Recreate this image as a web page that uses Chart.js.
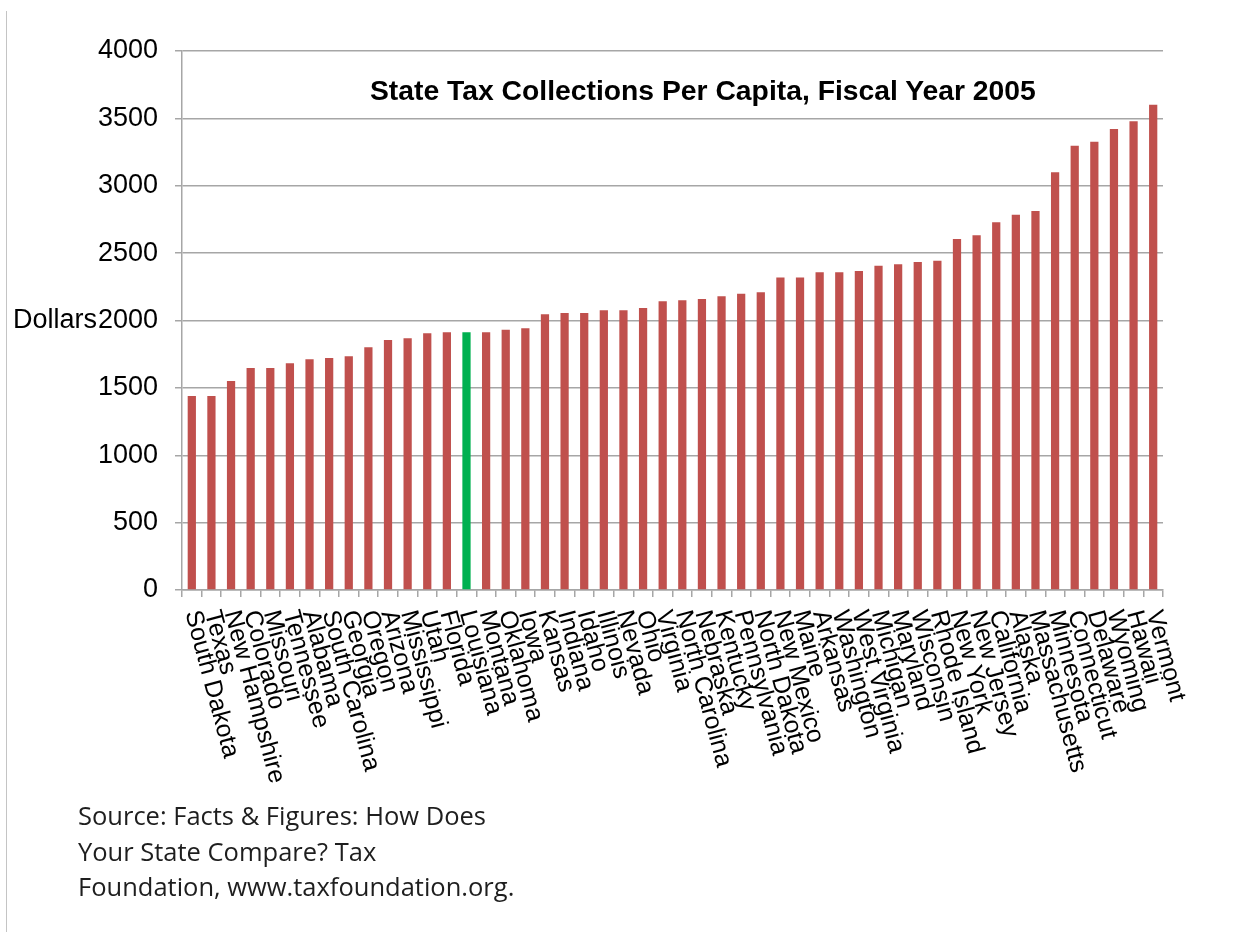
<!DOCTYPE html>
<html>
<head>
<meta charset="utf-8">
<title>State Tax Collections Per Capita, Fiscal Year 2005</title>
<script src="https://cdn.jsdelivr.net/npm/chart.js@4.4.1/dist/chart.umd.min.js"></script>
<style>
  html, body { margin: 0; padding: 0; background: #fff; }
  #wrap { position: relative; width: 1241px; height: 935px; overflow: hidden; }
  #frame { position: absolute; left: 6px; top: 11px; bottom: 3px; border-left: 1px solid #c4c4c4; }
  #chart { position: absolute; left: 0; top: 0; }
  .title {
    position: absolute; left: 370px; top: 74px;
    font: bold 28.3px "Liberation Sans", Arial, sans-serif; color: #000; white-space: nowrap;
  }
  .source {
    position: absolute; left: 78px; top: 798px;
    font: 25.5px "Open Sans", sans-serif; line-height: 35.5px; color: #1e1e1e;
  }
</style>
</head>
<body>
<div id="wrap">
  <div id="frame"></div>
  <canvas id="chart" width="1241" height="935"></canvas>
  <div class="title">State Tax Collections Per Capita, Fiscal Year 2005</div>
  <div class="source">Source: Facts &amp; Figures: How Does<br>Your State Compare? Tax<br>Foundation, www.taxfoundation.org.</div>
</div>
<script>
// States sorted by collections per capita (dollars), FY2005
const states = [
  'South Dakota', 'Texas', 'New Hampshire', 'Colorado', 'Missouri', 'Tennessee',
  'Alabama', 'South Carolina', 'Georgia', 'Oregon', 'Arizona', 'Mississippi',
  'Utah', 'Florida', 'Louisiana', 'Montana', 'Oklahoma', 'Iowa', 'Kansas',
  'Indiana', 'Idaho', 'Illinois', 'Nevada', 'Ohio', 'Virginia', 'North Carolina',
  'Nebraska', 'Kentucky', 'Pennsylvania', 'North Dakota', 'New Mexico', 'Maine',
  'Arkansas', 'Washington', 'West Virginia', 'Michigan', 'Maryland', 'Wisconsin',
  'Rhode Island', 'New York', 'New Jersey', 'California', 'Alaska', 'Massachusetts',
  'Minnesota', 'Connecticut', 'Delaware', 'Wyoming', 'Hawaii', 'Vermont'
];
const perCapita = [
  1440, 1440, 1551, 1647, 1647, 1682,
  1712, 1722, 1734, 1801, 1855, 1868,
  1905, 1912, 1912, 1912, 1932, 1942, 2046,
  2056, 2056, 2076, 2076, 2093, 2142, 2150,
  2160, 2180, 2199, 2209, 2320, 2320,
  2358, 2358, 2367, 2407, 2417, 2434,
  2444, 2605, 2632, 2729, 2785, 2813,
  3100, 3297, 3327, 3421, 3478, 3602
];
const yTicks = [0, 500, 1000, 1500, 2000, 2500, 3000, 3500, 4000];
const highlightState = 'Louisiana';

const RED = '#c0504d';
const GREEN = '#00b050';
const GRID = '#a6a6a6';
const FONT = '"Liberation Sans", Arial, sans-serif';
const LABEL_ANGLE = 75;

const barColors = states.map(s => s === highlightState ? GREEN : RED);

// state names run down-right from each bar, plus the horizontal "Dollars" title
const stateLabels = {
  id: 'stateLabels',
  afterDraw(chart) {
    const ctx = chart.ctx;
    const xs = chart.scales.x;
    const ys = chart.scales.y;
    ctx.save();
    ctx.fillStyle = '#000';
    ctx.font = '25px ' + FONT;
    ctx.textAlign = 'left';
    ctx.textBaseline = 'middle';
    states.forEach((s, i) => {
      ctx.save();
      ctx.translate(xs.getPixelForValue(i), xs.top + 21);
      ctx.rotate(LABEL_ANGLE * Math.PI / 180);
      ctx.fillText(s, 0, 0);
      ctx.restore();
    });
    ctx.font = '27px ' + FONT;
    ctx.fillText('Dollars', 13, ys.getPixelForValue(2000));
    ctx.restore();
  }
};

new Chart(document.getElementById('chart'), {
  type: 'bar',
  data: {
    labels: states,
    datasets: [{
      data: perCapita,
      backgroundColor: barColors,
      borderWidth: 0,
      categoryPercentage: 1,
      barPercentage: 0.42
    }]
  },
  options: {
    responsive: false,
    animation: false,
    layout: { padding: { left: 0, right: 78, top: 51, bottom: 0 } },
    plugins: { legend: { display: false }, tooltip: { enabled: false } },
    scales: {
      x: {
        offset: true,
        afterFit: scale => { scale.height = 345; },
        ticks: { display: false },
        grid: { offset: true, drawOnChartArea: false, color: GRID, lineWidth: 1.5, tickLength: 7 },
        border: { color: GRID, width: 1.5 }
      },
      y: {
        min: 0,
        max: 4000,
        afterFit: scale => { scale.width = 182; },
        afterBuildTicks: scale => { scale.ticks = yTicks.map(v => ({ value: v })); },
        ticks: {
          color: '#000',
          padding: 17,
          callback: v => String(v),
          font: { family: FONT, size: 27 }
        },
        grid: { color: GRID, lineWidth: 1.5, tickLength: 7 },
        border: { color: GRID, width: 1.5 }
      }
    }
  },
  plugins: [stateLabels]
});
</script>
</body>
</html>
